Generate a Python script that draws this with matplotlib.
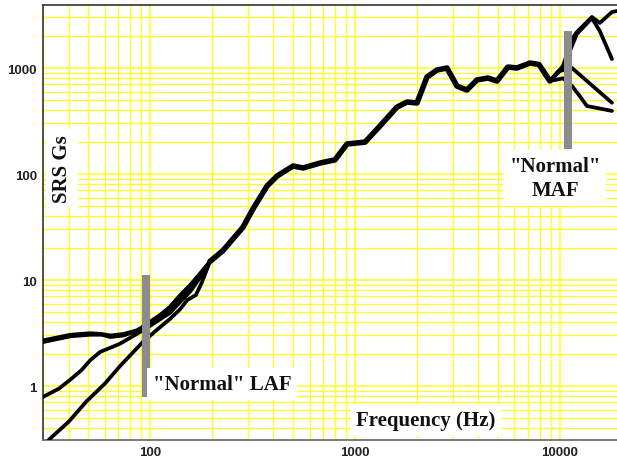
import numpy as np
import matplotlib.pyplot as plt
from matplotlib.ticker import FixedLocator, FixedFormatter, NullFormatter

# Shared middle section of the SRS curves (Hz, Gs)
mid_freq = [196, 227, 254, 284, 318, 372, 417, 499, 558, 675, 798, 914, 1119,
            1324, 1603, 1794, 2006, 2245, 2512, 2811, 3145, 3516, 3936, 4457,
            4931, 5577, 6167, 7137, 7900, 8940]
mid_srs = [15.0, 19.0, 24.5, 31.5, 47, 77, 96, 119, 114, 127, 136, 192, 200,
           284, 428, 478, 468, 822, 957, 1000, 676, 620, 771, 805,
           754, 1022, 1000, 1114, 1080, 754]

# low-frequency starts
a_freq = [30, 36, 41, 51, 58, 64, 74, 86, 97, 112, 125, 140, 157, 175]
a_srs = [2.7, 2.9, 3.05, 3.15, 3.1, 3.0, 3.1, 3.35, 3.8, 4.5, 5.3, 6.6, 8.2, 10.8]

b_freq = [30, 36, 41, 46, 51, 57, 71, 86, 100, 125, 140, 157, 175]
b_srs = [0.79, 0.95, 1.16, 1.4, 1.75, 2.1, 2.5, 3.1, 3.7, 4.9, 6.2, 7.8, 10.5]

c_freq = [30, 32.5, 40, 49, 60, 71, 92, 110, 125, 140, 152, 167, 178]
c_srs = [0.27, 0.32, 0.46, 0.72, 1.05, 1.53, 2.6, 3.5, 4.3, 5.3, 6.5, 7.2, 9.3]

d_freq = [30, 36, 41, 51, 58, 64, 74, 86, 97, 112, 125, 140, 157, 175]
d_srs = [2.6, 2.8, 2.95, 3.05, 3.05, 2.9, 3.0, 3.3, 3.9, 4.7, 5.6, 7.2, 9.0, 11.5]

# high-frequency ends
e1_freq = [10350, 11460, 12110, 14330, 15670, 17950, 19000]
e1_srs = [1044, 1877, 2188, 3030, 2660, 3375, 3450]
e2_freq = [10350, 12110, 14330, 15670, 17950]
e2_srs = [1000, 2100, 2950, 2230, 1216]
e3_freq = [9800, 11460, 17950]
e3_srs = [930, 1000, 470]
e4_freq = [10350, 11460, 12530, 13550, 17950]
e4_srs = [800, 676, 540, 438, 394]

curves = [(a_freq, a_srs, e1_freq, e1_srs),
          (b_freq, b_srs, e2_freq, e2_srs),
          (c_freq, c_srs, e3_freq, e3_srs),
          (d_freq, d_srs, e4_freq, e4_srs)]

x_ticks = [100, 1000, 10000]
y_ticks = [1, 10, 100, 1000]

laf_bar_freq = 95.6
laf_bar_srs = [0.79, 11.1]
maf_bar_freq = 10940
maf_bar_srs = [172, 2230]

fig = plt.figure(figsize=(6.17, 4.6), dpi=100)
ax = fig.add_axes([43 / 617, 19 / 460, 574 / 617, 435 / 460])
ax.set_xscale('log')
ax.set_yscale('log')
ax.set_xlim(30, 19000)
ax.set_ylim(0.31, 3930)

grid_col = '#ffff1a'
ax.grid(True, which='major', color=grid_col, lw=1.1, zorder=0)
ax.grid(True, which='minor', color=grid_col, lw=0.9, zorder=0)
ax.set_axisbelow(True)

for lf, ls, hf, hs in curves:
    f = lf + mid_freq + hf
    s = ls + mid_srs + hs
    ax.plot(f, s, color='black', lw=2.7, solid_joinstyle='round',
            solid_capstyle='round', zorder=3)

# the overlapping strands make the shared part look heavier
ax.plot(mid_freq, mid_srs, color='black', lw=4.0, solid_joinstyle='round',
        solid_capstyle='round', zorder=3)

# "Normal" bars
ax.plot([laf_bar_freq, laf_bar_freq], laf_bar_srs, color='#8c8c8c', lw=5.8,
        solid_capstyle='butt', zorder=4)
ax.plot([maf_bar_freq, maf_bar_freq], maf_bar_srs, color='#8c8c8c', lw=5.8,
        solid_capstyle='butt', zorder=4)

ax.xaxis.set_major_locator(FixedLocator(x_ticks))
ax.xaxis.set_major_formatter(FixedFormatter([str(t) for t in x_ticks]))
ax.xaxis.set_minor_formatter(NullFormatter())
ax.yaxis.set_major_locator(FixedLocator(y_ticks))
ax.yaxis.set_major_formatter(FixedFormatter([str(t) for t in y_ticks]))
ax.yaxis.set_minor_formatter(NullFormatter())
ax.tick_params(which='both', length=0)
ax.tick_params(axis='y', pad=4.5)
ax.tick_params(axis='x', pad=4)
for lab in ax.get_xticklabels() + ax.get_yticklabels():
    lab.set_fontfamily('Liberation Sans')
    lab.set_fontweight('bold')
    lab.set_fontsize(9.5)
    lab.set_color('#222222')

ax.spines['right'].set_visible(False)
ax.spines['top'].set_color('#333333')
ax.spines['left'].set_color('#333333')
ax.spines['bottom'].set_color('#666666')
for s in ('top', 'left', 'bottom'):
    ax.spines[s].set_linewidth(1.2)

box = dict(facecolor='white', edgecolor='none', pad=4)
txt = dict(family='Liberation Serif', weight='bold', fontsize=15,
           color='#111111', transform=ax.transAxes, zorder=6, bbox=box)
ax.text(0.033, 0.625, 'SRS Gs', rotation=90, ha='center', va='center', **txt)
ax.text(0.667, 0.046, 'Frequency (Hz)', ha='center', va='center', **txt)
ax.text(0.312, 0.129, '"Normal" LAF', ha='center', va='center', **txt)
ax.text(0.892, 0.602, '"Normal"\nMAF', ha='center', va='center',
        linespacing=1.3, **txt)

fig.savefig('out.png', dpi=100)
